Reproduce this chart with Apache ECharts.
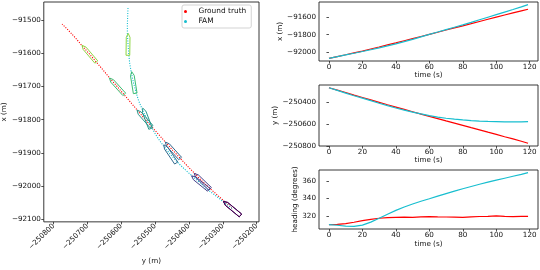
<!DOCTYPE html>
<html><head><meta charset="utf-8">
<script src="https://cdn.jsdelivr.net/npm/echarts@6/dist/echarts.min.js"></script>
<style>html,body{margin:0;padding:0;background:#fff}#c{width:540px;height:270px}</style>
</head><body><div id="c"></div>
<script>
// ---- data ----
const time = [0,5,10,15,20,25,30,35,40,45,50,55,60,65,70,75,80,85,90,95,100,105,110,115,119];
const gtX = [-92067,-92047,-92027,-92006,-91985,-91962,-91939,-91915,-91892,-91868,-91844,-91820,-91796,-91772,-91747,-91723,-91699,-91675,-91650,-91625,-91601,-91577,-91553,-91530,-91512];
const gtY = [-250273,-250294,-250316,-250339,-250361,-250383,-250405,-250427,-250448,-250469,-250490,-250511,-250532,-250552,-250573,-250593,-250613,-250634,-250654,-250675,-250695,-250716,-250736,-250757,-250775];
const gtHeading = [310.2,310.4,311.2,312.8,314.6,316.2,317.4,318.0,318.4,318.6,318.5,319.0,319.3,319.0,318.8,318.6,318.4,319.0,319.4,319.6,320.1,319.6,319.3,319.5,319.6];
const famX = [-92067,-92048,-92029,-92010,-91990,-91970,-91949,-91927,-91903,-91878,-91852,-91824,-91796,-91769,-91742,-91715,-91688,-91660,-91631,-91602,-91573,-91544,-91515,-91485,-91460];
const famY = [-250273,-250297,-250321,-250345,-250367,-250390,-250413,-250435,-250456,-250476,-250494,-250510,-250525,-250538,-250549,-250557,-250564,-250570,-250575,-250578,-250580,-250582,-250582,-250581,-250580];
const famHeading = [310.2,309.4,308.5,308.2,309.6,313.0,317.4,322.0,326.4,330.2,333.6,336.7,339.6,342.6,345.5,348.3,351.0,353.6,356.1,358.5,360.8,363.0,365.2,367.4,369.3];
const boatTimes = [0,20,40,60,80,100];
const mapYTicks = [-250800,-250700,-250600,-250500,-250400,-250300,-250200];
const mapXTicks = [-92100,-92000,-91900,-91800,-91700,-91600,-91500];
const timeTicks = [0,20,40,60,80,100,120];
const xTicks = [-92000,-91800,-91600];
const yTicks = [-250800,-250600,-250400];
const headingTicks = [320,340,360];

// ---- styles ----
const RED = '#ff0000', CYAN = '#17becf';
const boatColors = ['#440154','#46408a','#33698e','#27978b','#3dbc74','#8fd744'];
const FONT = 'DejaVu Sans';
const FS = 7.2;
const hull = [[-33,-5.5],[21,-5.5],[33,0],[21,5.5],[-33,5.5]];

const minus = v => String(v).replace('-', '\u2212');
function margin5(arrs){
  let lo = Infinity, hi = -Infinity;
  arrs.forEach(a => a.forEach(v => { lo = Math.min(lo, v); hi = Math.max(hi, v); }));
  const m = (hi - lo) * 0.05; return [lo - m, hi + m];
}
function axis(o){
  return Object.assign({
    type:'value', splitLine:{show:false},
    axisLine:{show:false},
    axisTick:{show:true, length:2.5, lineStyle:{color:'#222', width:0.8}, customValues:o.ticks},
    axisLabel:{fontSize:FS, color:'#111', fontFamily:FONT, margin:3, formatter:minus, customValues:o.ticks},
    nameLocation:'middle',
    nameTextStyle:{fontSize:FS, color:'#111', fontFamily:FONT}
  }, o.rest);
}
const tExt = margin5([time]);
const xExt = margin5([gtX, famX]);
const yExt = margin5([gtY, famY]);
const hExt = margin5([gtHeading, famHeading]);

const boats = [];
boatTimes.forEach((t, k) => {
  const i = time.indexOf(t);
  boats.push([gtY[i], gtX[i], gtHeading[i], k]);
  boats.push([famY[i], famX[i], famHeading[i], k]);
});

const gridStyle = {show:true, borderColor:'#222', borderWidth:0.9, backgroundColor:'#fff'};
const option = {
  animation:false,
  textStyle:{fontFamily:FONT},
  grid:[
    Object.assign({left:40, top:2, width:219, height:227}, gridStyle),
    Object.assign({left:319, top:2, width:219, height:59}, gridStyle),
    Object.assign({left:319, top:85, width:219, height:61}, gridStyle),
    Object.assign({left:319, top:170, width:219, height:59}, gridStyle)
  ],
  legend:{
    data:['Ground truth','FAM'], left:182, top:5, orient:'vertical', icon:'circle',
    itemWidth:16, itemHeight:3, itemGap:3, selectedMode:false,
    padding:[3,5,3,2], borderColor:'#d3d3d3', borderWidth:1, borderRadius:2, backgroundColor:'#fff',
    textStyle:{fontSize:7.4, color:'#111', fontFamily:FONT}
  },
  xAxis:[
    axis({ticks:mapYTicks, rest:{gridIndex:0, min:-250829, max:-250193, name:'y (m)', nameGap:27,
      axisLabel:{fontSize:FS, color:'#111', fontFamily:FONT, margin:3, rotate:45, formatter:minus, customValues:mapYTicks}}}),
    axis({ticks:timeTicks, rest:{gridIndex:1, min:tExt[0], max:tExt[1], name:'time (s)', nameGap:10}}),
    axis({ticks:timeTicks, rest:{gridIndex:2, min:tExt[0], max:tExt[1], name:'time (s)', nameGap:10}}),
    axis({ticks:timeTicks, rest:{gridIndex:3, min:tExt[0], max:tExt[1], name:'time (s)', nameGap:12}})
  ],
  yAxis:[
    axis({ticks:mapXTicks, rest:{gridIndex:0, min:-92107.6, max:-91445.5, name:'x (m)', nameGap:30}}),
    axis({ticks:xTicks, rest:{gridIndex:1, min:xExt[0], max:xExt[1], name:'x (m)', nameGap:27}}),
    axis({ticks:yTicks, rest:{gridIndex:2, min:yExt[0], max:yExt[1], name:'y (m)', nameGap:31}}),
    axis({ticks:headingTicks, rest:{gridIndex:3, min:hExt[0], max:hExt[1], name:'heading (degrees)', nameGap:16}})
  ],
  series:[
    {type:'line', name:'Ground truth', xAxisIndex:0, yAxisIndex:0, color:RED, symbol:'none',
     data:gtY.map((y,i)=>[y, gtX[i]]), lineStyle:{color:RED, width:1.1, type:[1.1,1.4]}, z:2},
    {type:'line', name:'FAM', xAxisIndex:0, yAxisIndex:0, color:CYAN, symbol:'none',
     data:famY.map((y,i)=>[y, famX[i]]), lineStyle:{color:CYAN, width:1.1, type:[1.1,1.4]}, z:2},
    {type:'custom', xAxisIndex:0, yAxisIndex:0, data:boats, z:3, silent:true,
     renderItem:(params, api) => {
       const cy = api.value(0), cx = api.value(1), h = api.value(2) * Math.PI / 180, k = api.value(3);
       const c = Math.cos(h), s = Math.sin(h);
       const pts = hull.map(([f,l]) => api.coord([cy + f*s + l*c, cx + f*c - l*s]));
       return {type:'polygon', shape:{points:pts}, style:{fill:null, stroke:boatColors[k], lineWidth:1}};
     }},
    {type:'line', name:'Ground truth', xAxisIndex:1, yAxisIndex:1, color:RED, symbol:'none',
     data:time.map((t,i)=>[t, gtX[i]]), lineStyle:{color:RED, width:1.2}},
    {type:'line', name:'FAM', xAxisIndex:1, yAxisIndex:1, color:CYAN, symbol:'none',
     data:time.map((t,i)=>[t, famX[i]]), lineStyle:{color:CYAN, width:1.2}},
    {type:'line', name:'Ground truth', xAxisIndex:2, yAxisIndex:2, color:RED, symbol:'none',
     data:time.map((t,i)=>[t, gtY[i]]), lineStyle:{color:RED, width:1.2}},
    {type:'line', name:'FAM', xAxisIndex:2, yAxisIndex:2, color:CYAN, symbol:'none',
     data:time.map((t,i)=>[t, famY[i]]), lineStyle:{color:CYAN, width:1.2}},
    {type:'line', name:'Ground truth', xAxisIndex:3, yAxisIndex:3, color:RED, symbol:'none',
     data:time.map((t,i)=>[t, gtHeading[i]]), lineStyle:{color:RED, width:1.2}},
    {type:'line', name:'FAM', xAxisIndex:3, yAxisIndex:3, color:CYAN, symbol:'none',
     data:time.map((t,i)=>[t, famHeading[i]]), lineStyle:{color:CYAN, width:1.2}}
  ]
};
echarts.init(document.getElementById('c'), null, {renderer:'canvas'}).setOption(option);
</script></body></html>
